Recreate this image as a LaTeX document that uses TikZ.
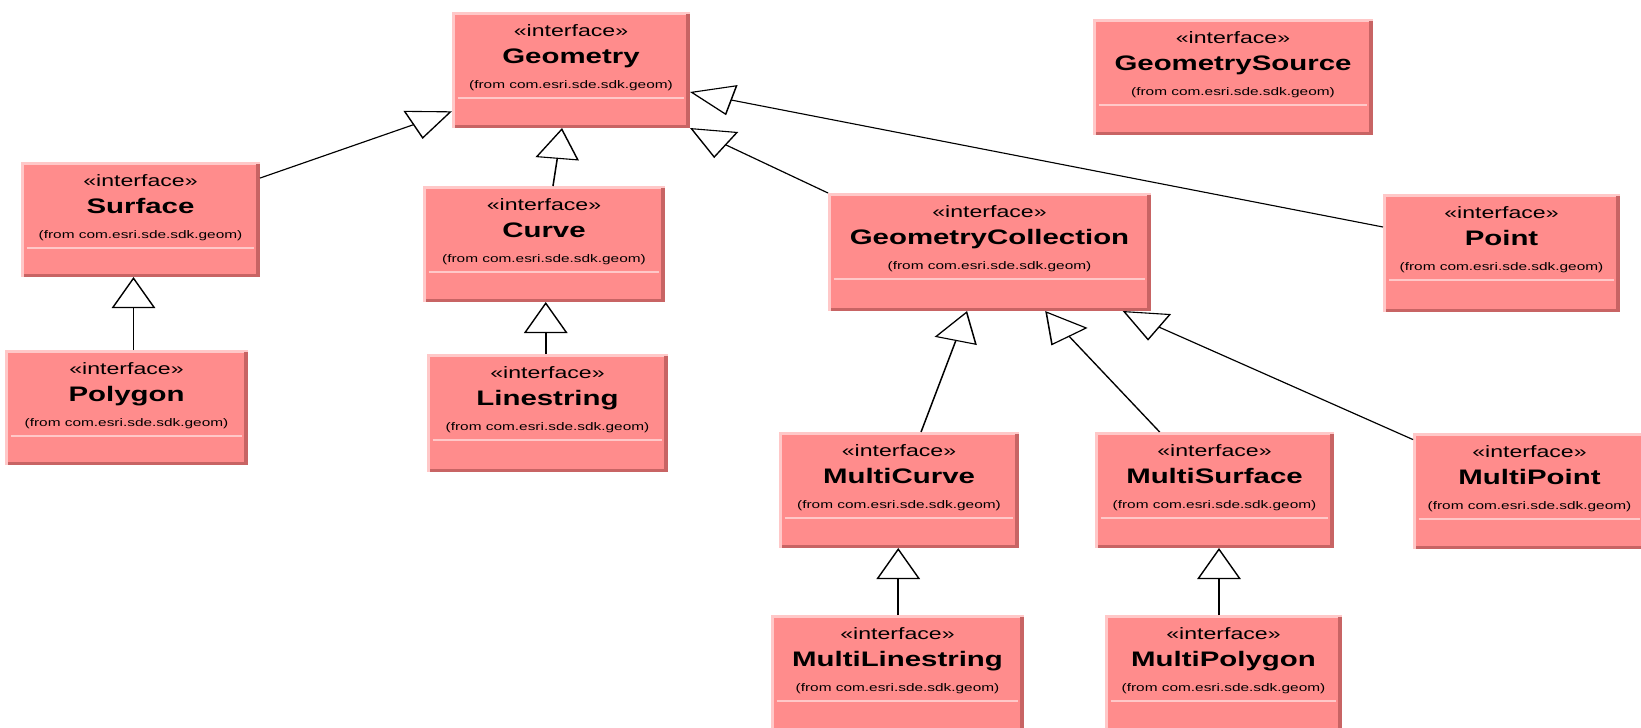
\documentclass[tikz,border=0pt]{standalone}
\usepackage{fontspec}
\setmainfont{Liberation Sans}
\usetikzlibrary{arrows.meta,fit,calc}
\definecolor{boxfill}{RGB}{255,140,140}
\definecolor{boxlight}{RGB}{255,200,200}
\definecolor{boxdark}{RGB}{200,100,100}
\tikzset{
  boxbody/.style={draw=none, fill=boxfill, inner sep=0pt, outer sep=0pt, rectangle},
  stereo/.style={anchor=base, inner sep=0pt, font=\fontsize{16.5}{17}\selectfont},
  cname/.style={anchor=base, inner sep=0pt, font=\fontsize{21}{22}\selectfont\bfseries},
  pkg/.style={anchor=base, inner sep=0pt, font=\fontsize{11}{12}\selectfont},
  seprule/.style={boxlight, line width=1.2pt},
  gen/.style={draw=black, line width=1.1pt, -{Triangle[open, length=31pt, width=31pt]}},
}
% UML interface box: name, x1, y1, x2, y2, class name
\newcommand\umlbox[6]{%
  \node[boxbody, fit={(#2,#3) (#4,#5)}] (#1) {};
  \fill[boxlight] (#1.north west) rectangle ([yshift=-2.5pt]#1.north east);
  \fill[boxlight] (#1.north west) rectangle ([xshift=2.2pt]#1.south west);
  \fill[boxdark] ([xshift=-3pt,yshift=-2pt]#1.north east) rectangle (#1.south east);
  \fill[boxdark] ([xshift=2pt,yshift=3.5pt]#1.south west) rectangle (#1.south east);
  \node[stereo] (#1-st) at ([yshift=-24pt]#1.north) {«interface»};
  \node[cname] (#1-nm) at ([yshift=-51pt]#1.north) {#6};
  \node[pkg] (#1-pk) at ([yshift=-76pt]#1.north) {(from com.esri.sde.sdk.geom)};
  \draw[seprule] ([xshift=4pt,yshift=-86pt]#1.north west) -- ([xshift=-4pt,yshift=-86pt]#1.north east);
}
\begin{document}
\begin{tikzpicture}[x=1pt, y=-1pt]
\fill[white] (0,0) rectangle (1641,728);
\begin{scope}[transform canvas={xscale=1.4}, x=0.7142857pt]
  % classes
  \umlbox{geometry}{452}{12}{690}{128}{Geometry}
  \umlbox{gsource}{1093}{19}{1373}{135}{GeometrySource}
  \umlbox{surface}{21}{162}{260}{277}{Surface}
  \umlbox{curve}{423}{186}{665}{302}{Curve}
  \umlbox{gcoll}{828}{193}{1151}{311}{GeometryCollection}
  \umlbox{point}{1383}{194}{1620}{312}{Point}
  \umlbox{polygon}{5}{350}{248}{465}{Polygon}
  \umlbox{linestring}{427}{354}{668}{472}{Linestring}
  \umlbox{mcurve}{779}{432}{1019}{548}{MultiCurve}
  \umlbox{msurface}{1095}{432}{1334}{548}{MultiSurface}
  \umlbox{mpoint}{1413}{433}{1646}{549}{MultiPoint}
  \umlbox{mlinestring}{771}{615}{1024}{731}{MultiLinestring}
  \umlbox{mpolygon}{1105}{615}{1342}{731}{MultiPolygon}
  % generalizations
  \draw[gen] (surface) -- (geometry);
  \draw[gen] (curve) -- (geometry);
  \draw[gen] (gcoll.north west) -- (geometry.south east);
  \draw[gen] ([yshift=26pt]point.west) -- ([yshift=-22pt]geometry.east);
  \coordinate (m1) at ($(polygon.north)!0.5!(surface.south)$);
  \draw[gen] (polygon.north -| m1) -- (surface.south -| m1);
  \coordinate (m2) at ($(linestring.north)!0.5!(curve.south)$);
  \draw[gen] (linestring.north -| m2) -- (curve.south -| m2);
  \draw[gen] (mcurve) -- (gcoll);
  \draw[gen] (msurface) -- (gcoll);
  \draw[gen] (mpoint) -- (gcoll);
  \coordinate (m3) at ($(mlinestring.north)!0.5!(mcurve.south)$);
  \draw[gen] (mlinestring.north -| m3) -- (mcurve.south -| m3);
  \coordinate (m4) at ($(mpolygon.north)!0.5!(msurface.south)$);
  \draw[gen] (mpolygon.north -| m4) -- (msurface.south -| m4);
\end{scope}
\pgfresetboundingbox
\useasboundingbox (0,0) rectangle (1641,728);
\end{tikzpicture}
\end{document}
